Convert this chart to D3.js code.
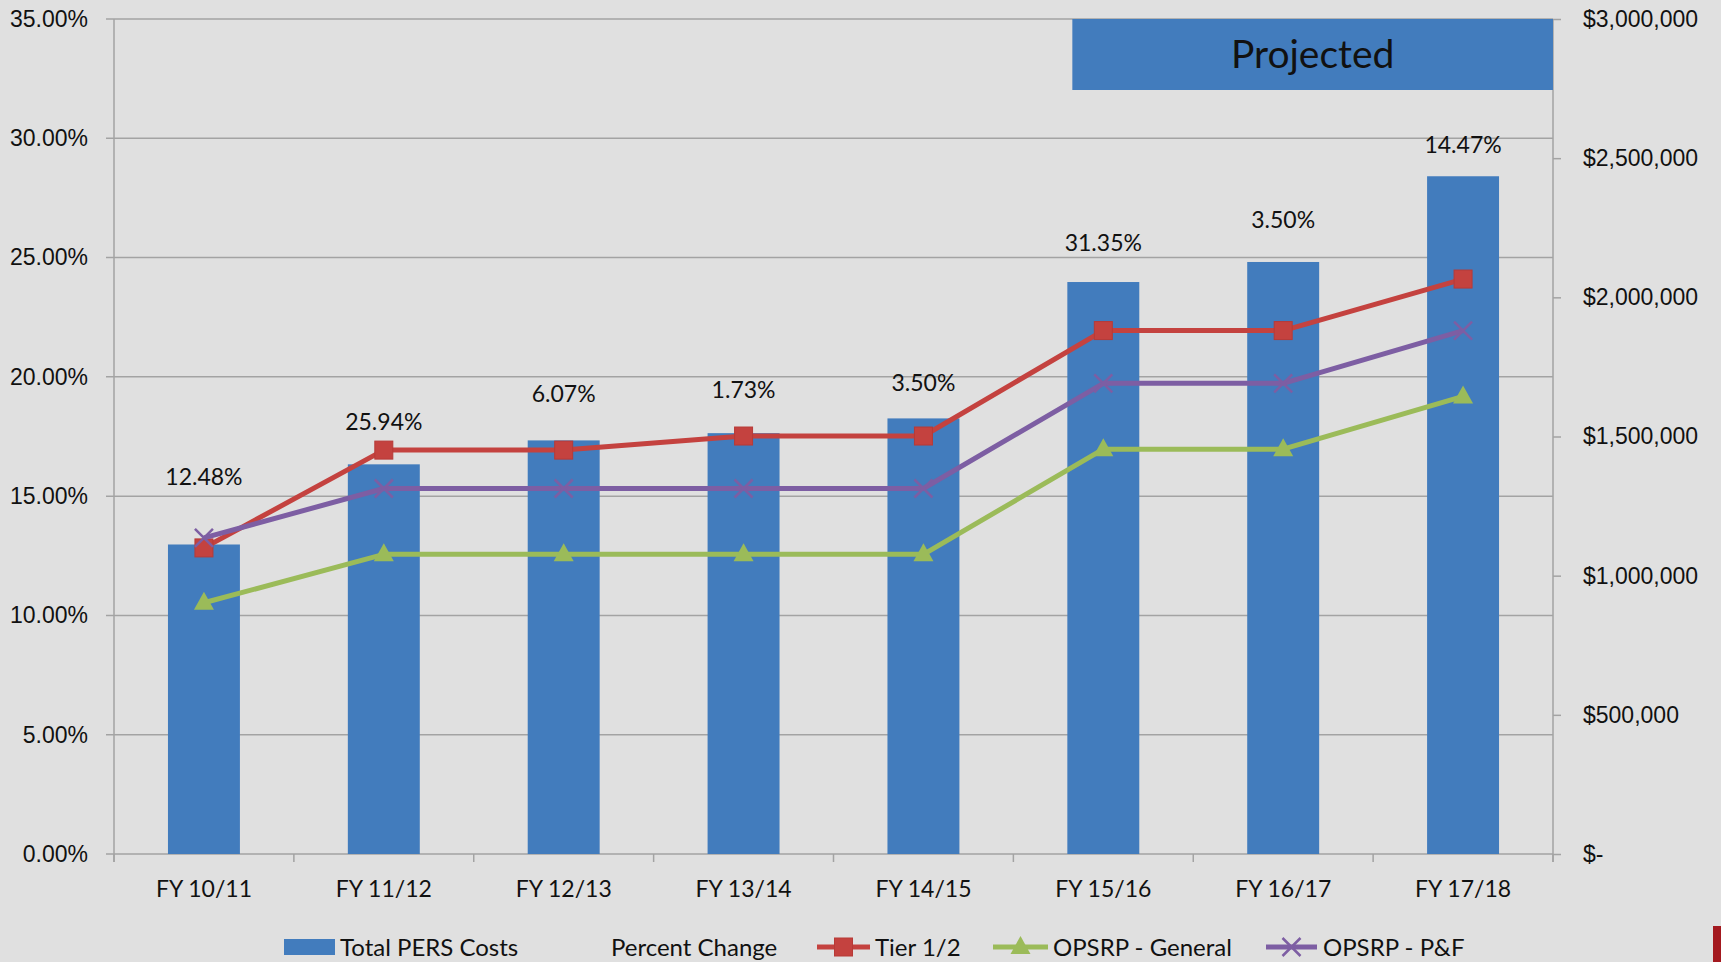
<!DOCTYPE html>
<html>
<head>
<meta charset="utf-8">
<script src="https://cdn.jsdelivr.net/npm/d3@7"></script>
<style>
  html, body { margin: 0; padding: 0; background: #e0e0e0; overflow: hidden; }
  svg { display: block; font-family: Lato, "Open Sans", sans-serif; }
</style>
</head>
<body>
<script>
const years = ["FY 10/11", "FY 11/12", "FY 12/13", "FY 13/14", "FY 14/15", "FY 15/16", "FY 16/17", "FY 17/18"];
const totalCosts = [1112000, 1400000, 1486000, 1512000, 1565000, 2055000, 2127000, 2435000];
const pctChange = ["12.48%", "25.94%", "6.07%", "1.73%", "3.50%", "31.35%", "3.50%", "14.47%"];
// "Percent Change" has no marker, only labels; where they sit on the cost axis
const pctChangeAt = [1356000, 1554000, 1652000, 1668000, 1692000, 2196000, 2279000, 2547000];
const tier12 = [12.83, 16.93, 16.93, 17.52, 17.52, 21.94, 21.94, 24.10];
const opsrpGeneral = [10.53, 12.56, 12.56, 12.56, 12.56, 16.97, 16.97, 19.18];
const opsrpPF = [13.25, 15.32, 15.32, 15.32, 15.32, 19.73, 19.73, 21.94];
const pctTicks = [0, 5, 10, 15, 20, 25, 30, 35];
const costTicks = [0, 500000, 1000000, 1500000, 2000000, 2500000, 3000000];
const projectedFrom = "FY 15/16";

const W = 1721, H = 962;
const m = { left: 114, right: 1553, top: 19, bottom: 854 };
const blue = "#427cbd", red = "#c4423f", green = "#9bbb59", purple = "#7d5ea3";
const gridCol = "#a3a3a3";
const fs = 23;

const svg = d3.select("body").append("svg")
  .attr("width", W).attr("height", H);

svg.append("rect").attr("width", W).attr("height", H).attr("fill", "#e0e0e0");

const x = d3.scaleBand().domain(years).range([m.left, m.right])
  .paddingInner(0.6).paddingOuter(0.3);
const step = x.step();
const cx = d => x(d) + x.bandwidth() / 2;
const yPct = d3.scaleLinear().domain([0, 35]).range([m.bottom, m.top]);
const yCost = d3.scaleLinear().domain([0, 3000000]).range([m.bottom, m.top]);

// gridlines
svg.append("g").selectAll("line").data(pctTicks).join("line")
  .attr("x1", m.left - 8).attr("x2", m.right)
  .attr("y1", d => yPct(d)).attr("y2", d => yPct(d))
  .attr("stroke", gridCol).attr("stroke-width", 1.5);

// left axis
const leftAxis = d3.axisLeft(yPct).tickValues(pctTicks).tickSize(0).tickPadding(26)
  .tickFormat(d => d.toFixed(2) + "%");
const gl = svg.append("g").attr("transform", `translate(${m.left},0)`).call(leftAxis);
gl.select(".domain").remove();
gl.selectAll("text").attr("font-size", fs).attr("fill", "#111").attr("font-family", null);
svg.append("line").attr("x1", m.left).attr("x2", m.left)
  .attr("y1", m.top).attr("y2", m.bottom + 8).attr("stroke", gridCol).attr("stroke-width", 1.5);

// right axis
const rightAxis = d3.axisRight(yCost).tickValues(costTicks).tickSize(8).tickPadding(22)
  .tickFormat(d => d === 0 ? "$-" : "$" + d3.format(",")(d));
const gr = svg.append("g").attr("transform", `translate(${m.right},0)`).call(rightAxis);
gr.select(".domain").remove();
gr.selectAll("line").attr("stroke", gridCol).attr("stroke-width", 1.5);
gr.selectAll("text").attr("font-size", fs).attr("fill", "#111").attr("font-family", null);
svg.append("line").attr("x1", m.right).attr("x2", m.right)
  .attr("y1", m.top).attr("y2", m.bottom + 8).attr("stroke", gridCol).attr("stroke-width", 1.5);

// x axis ticks at category boundaries + labels
svg.append("g").selectAll("line").data(d3.range(years.length + 1)).join("line")
  .attr("x1", i => m.left + i * step).attr("x2", i => m.left + i * step)
  .attr("y1", m.bottom).attr("y2", m.bottom + 8)
  .attr("stroke", gridCol).attr("stroke-width", 1.5);
svg.append("g").selectAll("text").data(years).join("text")
  .attr("x", d => cx(d)).attr("y", m.bottom + 43)
  .attr("text-anchor", "middle").attr("font-size", fs).attr("fill", "#111")
  .text(d => d);

// bars
svg.append("g").selectAll("rect").data(years).join("rect")
  .attr("x", d => x(d)).attr("width", x.bandwidth())
  .attr("y", (d, i) => yCost(totalCosts[i]))
  .attr("height", (d, i) => yCost(0) - yCost(totalCosts[i]))
  .attr("fill", blue);

// percent change labels
svg.append("g").selectAll("text").data(years).join("text")
  .attr("x", d => cx(d)).attr("y", (d, i) => yCost(pctChangeAt[i]))
  .attr("dy", "0.36em").attr("text-anchor", "middle")
  .attr("font-size", fs).attr("fill", "#111")
  .text((d, i) => pctChange[i]);

// lines
const line = d3.line().x((d, i) => cx(years[i])).y(d => yPct(d));
function drawSeries(vals, color, marker) {
  const g = svg.append("g");
  g.append("path").datum(vals).attr("d", line)
    .attr("fill", "none").attr("stroke", color).attr("stroke-width", 5)
    .attr("stroke-linejoin", "round");
  vals.forEach((v, i) => {
    const px = cx(years[i]), py = yPct(v);
    drawMarker(g, marker, px, py, color);
  });
}
function drawMarker(g, marker, px, py, color) {
  if (marker === "square") {
    g.append("rect").attr("x", px - 9).attr("y", py - 9).attr("width", 18).attr("height", 18)
      .attr("fill", color).attr("stroke", "#b73a37").attr("stroke-width", 1);
  } else if (marker === "triangle") {
    g.append("path").attr("d", `M${px},${py - 11}L${px + 10},${py + 7}L${px - 10},${py + 7}Z`)
      .attr("fill", color);
  } else {
    g.append("path").attr("d", `M${px - 9},${py - 9}L${px + 9},${py + 9}M${px + 9},${py - 9}L${px - 9},${py + 9}`)
      .attr("stroke", color).attr("stroke-width", 2.5).attr("fill", "none");
  }
}
drawSeries(tier12, red, "square");
drawSeries(opsrpGeneral, green, "triangle");
drawSeries(opsrpPF, purple, "x");

// projected box
const px0 = x(projectedFrom) + 5;
svg.append("rect").attr("x", px0).attr("y", m.top)
  .attr("width", m.right - px0).attr("height", 71).attr("fill", blue);
svg.append("text").attr("x", (px0 + m.right) / 2).attr("y", m.top + 35)
  .attr("dy", "0.36em").attr("text-anchor", "middle")
  .attr("font-size", 39).attr("fill", "#111").text("Projected");

// legend
const ly = 947;
const lg = svg.append("g").attr("font-size", 24).attr("fill", "#111");
lg.append("rect").attr("x", 284).attr("y", ly - 8).attr("width", 51).attr("height", 16).attr("fill", blue);
lg.append("text").attr("x", 340).attr("y", ly).attr("dy", "0.36em").text("Total PERS Costs");
lg.append("text").attr("x", 611).attr("y", ly).attr("dy", "0.36em").text("Percent Change");
const legendLines = [
  { x0: 817, x1: 870, color: red, marker: "square", label: "Tier 1/2", tx: 875 },
  { x0: 993, x1: 1048, color: green, marker: "triangle", label: "OPSRP - General", tx: 1053 },
  { x0: 1266, x1: 1317, color: purple, marker: "x", label: "OPSRP - P&F", tx: 1323 }
];
legendLines.forEach(d => {
  lg.append("line").attr("x1", d.x0).attr("x2", d.x1).attr("y1", ly).attr("y2", ly)
    .attr("stroke", d.color).attr("stroke-width", 5);
  drawMarker(lg, d.marker, (d.x0 + d.x1) / 2, ly, d.color);
  lg.append("text").attr("x", d.tx).attr("y", ly).attr("dy", "0.36em").text(d.label);
});

// red accent at bottom right
svg.append("rect").attr("x", 1713).attr("y", 926).attr("width", 8).attr("height", 36).attr("fill", "#a3191f");
</script>
</body>
</html>
